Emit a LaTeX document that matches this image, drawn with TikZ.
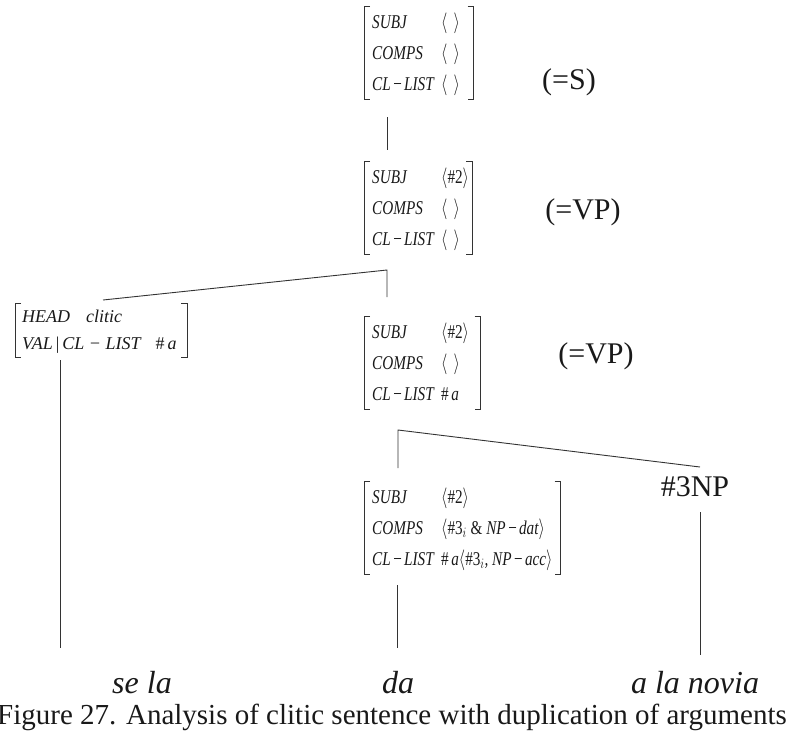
\documentclass[tikz,border=0pt]{standalone}
\usepackage{fontspec}
\setmainfont{Liberation Serif}
\usepackage{graphicx}
\usepackage{array}
\newcommand\ang[1]{\ensuremath{\left\langle\vrule height 16pt depth 0pt width 0pt\hbox{#1}\right\rangle}}
\newcommand\emptyang{\ang{\hspace{8pt}}}
\newcommand\hsh{\textup{\#}}
\newcommand\mn{\hspace{2pt}−\hspace{2pt}}
\newcommand\avmtab[2]{\scalebox{0.78}[1]{\fontsize{19.5}{31}\selectfont\itshape
  \begin{tabular}{@{}p{88.5pt}@{}#1@{}}#2\end{tabular}}}
\newcommand\avmbrackets[1]{%
  \draw[brk] ([xshift=6pt]#1.north west) -- (#1.north west) -- (#1.south west) -- ([xshift=6pt]#1.south west);
  \draw[brk] ([xshift=-6pt]#1.north east) -- (#1.north east) -- (#1.south east) -- ([xshift=-6pt]#1.south east);}
\begin{document}
\begin{tikzpicture}[x=1pt,y=-1pt,
  every node/.style={text=black!90},
  tree/.style={line width=0.9pt, draw=black!80},
  brk/.style={line width=0.9pt, draw=black!80},
  avm/.style={inner xsep=8pt, inner ysep=0pt, anchor=north west},
  lbl/.style={font=\fontsize{30}{36}\selectfont, inner sep=0pt},
  word/.style={font=\fontsize{32}{36}\selectfont\itshape, inner sep=0pt},
]
\useasboundingbox (0,0) rectangle (794,731);

% AVMs
\node[avm] (a1) at (364,6.3) {\avmtab{p{31pt}}{%
  SUBJ & \emptyang\\
  COMPS & \emptyang\\
  CL\mn LIST & \emptyang}};
\avmbrackets{a1}

\node[avm] (a2) at (364,161.3) {\avmtab{p{29.5pt}}{%
  SUBJ & \ang{\textup{\#2}}\\
  COMPS & \emptyang\\
  CL\mn LIST & \emptyang}};
\avmbrackets{a2}

\node[avm, inner xsep=7pt] (a0) at (15,303.1) {\fontsize{18}{27}\selectfont\itshape
  \begin{tabular}{@{}p{158pt}@{}}
  HEAD\hspace{16pt}clitic\\
  VAL\,\textup{|}\,CL − LIST\hspace{14pt}\hsh\,a
  \end{tabular}};
\avmbrackets{a0}

\node[avm] (a3) at (364,316.3) {\avmtab{p{40pt}}{%
  SUBJ & \ang{\textup{\#2}}\\
  COMPS & \emptyang\\
  CL\mn LIST & \hsh\,a}};
\avmbrackets{a3}

\node[avm] (a4) at (364,481.3) {\avmtab{l}{%
  SUBJ & \ang{\textup{\#2}}\\
  COMPS & \ang{\textup{\#3}$_i$ \textup{\&} NP\mn dat}\\
  CL\mn LIST & \hsh\,a\ang{\textup{\#3}$_i$, NP\mn acc}}};
\avmbrackets{a4}

% labels
\node[lbl] (s) at (569,82) {(=S)};
\node[lbl] (vp1) at (583,212) {(=VP)};
\node[lbl] (vp2) at (596,356) {(=VP)};
\node[lbl] (np) at (695,487) {\#3NP};

% words
\node[word] (w1) at (142,683) {se la};
\node[word] (w2) at (398,683) {da};
\node[word] (w3) at (695,683) {a la novia};

% caption
\node[anchor=base west, inner sep=0pt, font=\fontsize{29}{34}\selectfont] (cap) at (-3,724)
  {Figure 27. Analysis of clitic sentence with duplication of arguments};

% tree coordinates
\coordinate (t1) at (387,117);
\coordinate (t2) at (387,150);
\coordinate (b1) at (387,270);
\coordinate (b1l) at (103,300);
\coordinate (b1d) at (387,297);
\coordinate (b2) at (398,430);
\coordinate (b2r) at (700,467);
\coordinate (b2d) at (398,468);
\coordinate (l0t) at (60,360);
\coordinate (l0b) at (60,648);
\coordinate (l4t) at (397,585);
\coordinate (l4b) at (397,648);
\coordinate (lnt) at (700,512);
\coordinate (lnb) at (700,655);

\draw[tree] (t1) -- (t2);
\draw[tree] (b1l) -- (b1) -- (b1d);
\draw[tree] (b2d) -- (b2) -- (b2r);
\draw[tree] (l0t) -- (l0b);
\draw[tree] (l4t) -- (l4b);
\draw[tree] (lnt) -- (lnb);
\end{tikzpicture}
\end{document}
